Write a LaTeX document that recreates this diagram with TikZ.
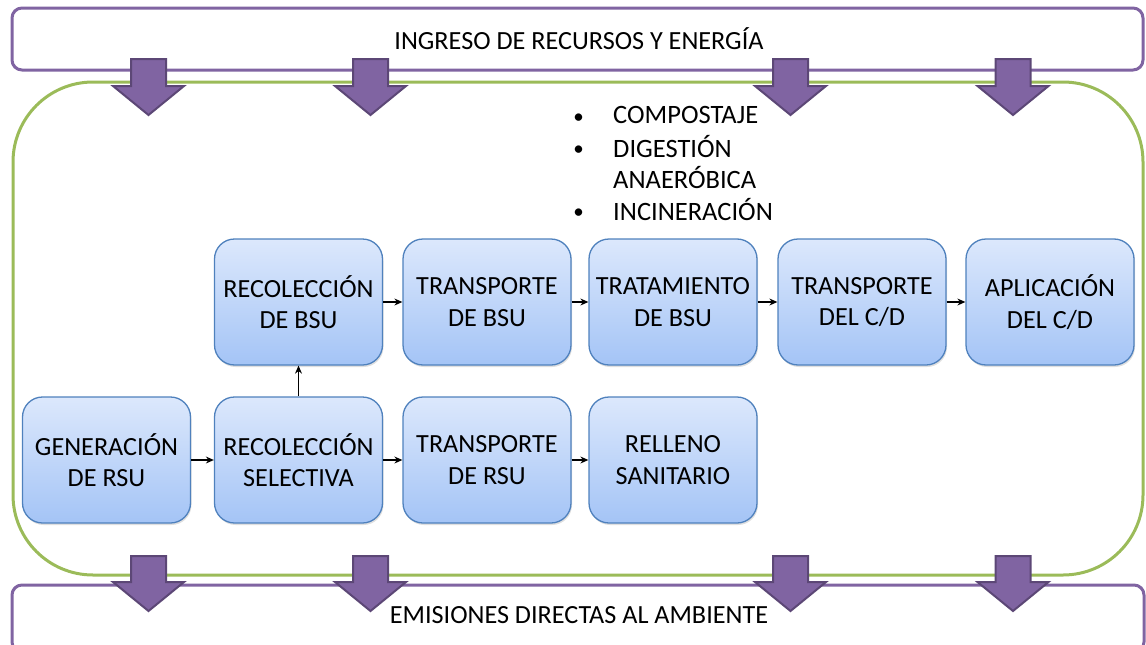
\documentclass[tikz,border=0pt]{standalone}
\usepackage{fontspec}
\setmainfont{Carlito}
\usetikzlibrary{shadows,arrows.meta}
\definecolor{purp}{RGB}{128,100,162}
\definecolor{purpdark}{RGB}{92,71,118}
\definecolor{grn}{RGB}{155,187,89}
\definecolor{boxline}{RGB}{79,129,189}
\definecolor{boxtop}{RGB}{220,232,252}
\definecolor{boxbot}{RGB}{164,196,246}
\tikzset{
  stagebox/.style={draw=boxline, line width=1.3pt, rounded corners=20pt,
    top color=boxtop, bottom color=boxbot, minimum width=168pt, minimum height=126pt,
    align=center, font=\fontsize{26.2}{31.5}\selectfont,
    drop shadow={opacity=0.25, shadow xshift=1pt, shadow yshift=-2pt}},
  flow/.style={-{Stealth[length=8pt,width=7pt]}, line width=1.1pt, black},
  bigarrow/.style={fill=purp, draw=purpdark, line width=2pt, line join=miter},
  frametext/.style={font=\fontsize{26.2}{31}\selectfont},
  listtext/.style={font=\fontsize{26.5}{31}\selectfont, anchor=west, inner sep=0pt},
  bullet/.style={font=\fontsize{21}{21}\selectfont, inner sep=0pt}
}
\begin{document}
\begin{tikzpicture}[x=1pt,y=-1pt]
\useasboundingbox (0,0) rectangle (1146,645);
% frames
\draw[purp, line width=3pt, fill=white, rounded corners=10pt] (12,8) rectangle (1143,70);
\node[frametext] (ingreso) at (579,39) {INGRESO DE RECURSOS Y ENERGÍA};
\draw[grn, line width=3pt, rounded corners=80pt] (13,82) rectangle (1143,575);
\draw[purp, line width=3pt, fill=white, rounded corners=10pt] (12,585) rectangle (1144,652);
\node[frametext] (emisiones) at (579,615) {EMISIONES DIRECTAS AL AMBIENTE};
% big arrows
\foreach \c in {148.5,370.5,790.5,1013} {
  \draw[bigarrow] (\c-17.5,59) -- (\c+17.5,59) -- (\c+17.5,86) -- (\c+35.5,86) -- (\c,115) -- (\c-35.5,86) -- (\c-17.5,86) -- cycle;
  \draw[bigarrow] (\c-17.5,556) -- (\c+17.5,556) -- (\c+17.5,582) -- (\c+35.5,582) -- (\c,611) -- (\c-35.5,582) -- (\c-17.5,582) -- cycle;
}
% list
\node[bullet] (b1) at (578.5,119) {•};
\node[listtext] (l1) at (613,115) {COMPOSTAJE};
\node[bullet] (b2) at (578.5,151) {•};
\node[listtext] (l2) at (613,147) {DIGESTIÓN};
\node[listtext] (l3) at (613,178) {ANAERÓBICA};
\node[bullet] (b3) at (578.5,214) {•};
\node[listtext] (l4) at (613,210) {INCINERACIÓN};
% boxes
\node[stagebox] (gen) at (106.5,460) {GENERACIÓN\\DE RSU};
\node[stagebox] (rsel) at (298.5,460) {RECOLECCIÓN\\SELECTIVA};
\node[stagebox] (trsu) at (487,460) {TRANSPORTE\\DE RSU};
\node[stagebox] (rell) at (673,460) {RELLENO\\SANITARIO};
\node[stagebox] (rbsu) at (298.5,302) {RECOLECCIÓN\\DE BSU};
\node[stagebox] (tbsu) at (487,302) {TRANSPORTE\\DE BSU};
\node[stagebox] (trat) at (673,302) {TRATAMIENTO\\DE BSU};
\node[stagebox] (tcd) at (862,302) {TRANSPORTE\\DEL C/D};
\node[stagebox] (acd) at (1050,302) {APLICACIÓN\\DEL C/D};
% connectors
\draw[flow] (gen) -- (rsel);
\draw[flow] (rsel) -- (trsu);
\draw[flow] (trsu) -- (rell);
\draw[flow] (rsel) -- (rbsu);
\draw[flow] (rbsu) -- (tbsu);
\draw[flow] (tbsu) -- (trat);
\draw[flow] (trat) -- (tcd);
\draw[flow] (tcd) -- (acd);
\end{tikzpicture}
\end{document}
